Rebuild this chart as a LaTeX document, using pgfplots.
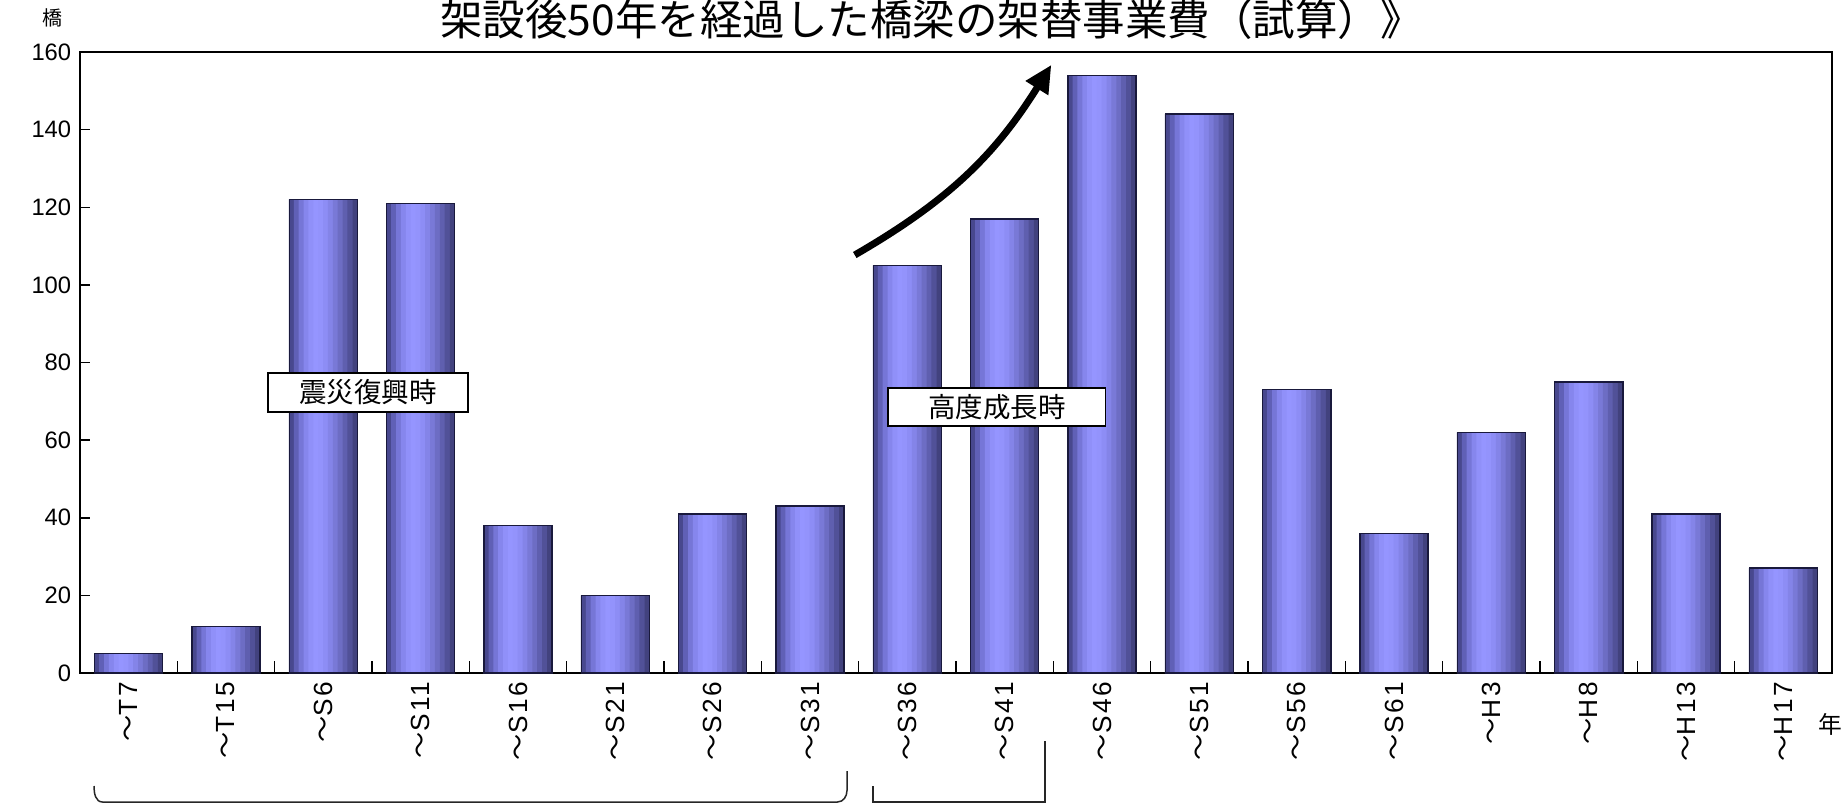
\documentclass[border=0pt]{standalone}
\usepackage{pgfplots}
\pgfplotsset{compat=1.18}
\usepackage{pgfplotstable}
\usepackage{fontspec}
\setmainfont{Liberation Sans}
\newfontfamily\cjk{Noto Sans CJK JP}
\newfontfamily\lab[LetterSpace=10]{Liberation Sans}
\usetikzlibrary{arrows.meta}
\definecolor{barline}{RGB}{25,25,60}
\definecolor{sA}{RGB}{72,72,142}
\definecolor{sB}{RGB}{96,96,182}
\definecolor{sC}{RGB}{118,118,215}
\definecolor{sD}{RGB}{134,134,237}
\definecolor{sE}{RGB}{144,144,249}
\definecolor{sF}{RGB}{149,149,255}
\definecolor{sG}{RGB}{147,147,252}
\definecolor{sH}{RGB}{141,141,245}
\definecolor{sI}{RGB}{132,132,232}
\definecolor{sJ}{RGB}{121,121,215}
\definecolor{sK}{RGB}{109,109,196}
\definecolor{sL}{RGB}{95,95,175}
\definecolor{sM}{RGB}{81,81,152}
\definecolor{sN}{RGB}{66,66,126}
\newcommand{\wl}[1]{{\cjk ～}{\lab #1}}
\pgfplotstableread{
x y
0 5
1 12
2 122
3 121
4 38
5 20
6 41
7 43
8 105
9 117
10 154
11 144
12 73
13 36
14 62
15 75
16 41
17 27
}\bridges
\begin{document}
\begin{tikzpicture}
\useasboundingbox (-32pt,-53.2pt) rectangle (706pt,269.2pt);
\clip (-32pt,-53.2pt) rectangle (706pt,269.2pt);
\begin{axis}[
  at={(0pt,0pt)}, anchor=south west,
  scale only axis, width=700.8pt, height=248.4pt,
  xmin=-0.5, xmax=17.5, ymin=0, ymax=160,
  ytick={0,20,...,160},
  xtick={0,...,17},
  xticklabels={\wl{T7},\wl{T15},\wl{S6},\wl{S11},\wl{S16},\wl{S21},\wl{S26},\wl{S31},\wl{S36},\wl{S41},\wl{S46},\wl{S51},\wl{S56},\wl{S61},\wl{H3},\wl{H8},\wl{H13},\wl{H17}},
  x tick label style={rotate=90, anchor=east, font=\fontsize{10.5}{12}\selectfont},
  y tick label style={font=\fontsize{9.5}{11}\selectfont},
  /pgf/number format/assume math mode=true,
  ybar,
  tick pos=left,
  xtick align=inside,
  ytick align=inside,
  major x tick style={draw=none},
  minor xtick={0.5,1.5,...,16.5},
  minor tick length=5pt,
  major tick length=4pt,
  tick style={black, line width=0.6pt},
  axis line style={black, line width=0.8pt},
  clip=false,
]
\addplot[draw=none, fill=sA, bar width=0.056, bar shift=-0.325] table {\bridges};
\addplot[draw=none, fill=sB, bar width=0.056, bar shift=-0.275] table {\bridges};
\addplot[draw=none, fill=sC, bar width=0.056, bar shift=-0.225] table {\bridges};
\addplot[draw=none, fill=sD, bar width=0.056, bar shift=-0.175] table {\bridges};
\addplot[draw=none, fill=sE, bar width=0.056, bar shift=-0.125] table {\bridges};
\addplot[draw=none, fill=sF, bar width=0.056, bar shift=-0.075] table {\bridges};
\addplot[draw=none, fill=sG, bar width=0.056, bar shift=-0.025] table {\bridges};
\addplot[draw=none, fill=sH, bar width=0.056, bar shift=0.025] table {\bridges};
\addplot[draw=none, fill=sI, bar width=0.056, bar shift=0.075] table {\bridges};
\addplot[draw=none, fill=sJ, bar width=0.056, bar shift=0.125] table {\bridges};
\addplot[draw=none, fill=sK, bar width=0.056, bar shift=0.175] table {\bridges};
\addplot[draw=none, fill=sL, bar width=0.056, bar shift=0.225] table {\bridges};
\addplot[draw=none, fill=sM, bar width=0.056, bar shift=0.275] table {\bridges};
\addplot[draw=none, fill=sN, bar width=0.05, bar shift=0.325] table {\bridges};
\addplot[draw=barline, fill=none, line width=0.6pt, bar width=0.7, bar shift=0] table {\bridges};
\draw[line width=2.8pt, -{Triangle[length=11pt,width=10pt]}] (axis cs:7.46,107.7) to[bend right=14] (axis cs:9.48,156.7);
\node[draw=black, fill=white, line width=0.6pt, minimum width=80pt, minimum height=15.6pt, inner sep=1pt, font=\cjk\fontsize{11}{12}\selectfont] at (axis cs:2.46,72.3) {震災復興時};
\node[draw=black, fill=white, line width=0.6pt, minimum width=87pt, minimum height=15.2pt, inner sep=1pt, font=\cjk\fontsize{11}{12}\selectfont] at (axis cs:8.92,68.5) {高度成長時};
\end{axis}
\node[anchor=base, font=\cjk\fontsize{17}{18}\selectfont] at (340.6pt,255pt) {架設後50年を経過した橋梁の架替事業費（試算）》};
\node[anchor=base, font=\cjk\fontsize{8}{9}\selectfont] at (-10.8pt,259pt) {橋};
\node[font=\cjk\fontsize{9.5}{10}\selectfont] at (700pt,-20.4pt) {年};
\draw[line width=0.6pt, black!85] (5.6pt,-45.2pt) to[out=-90,in=180] (9pt,-51.6pt) -- (303pt,-51.6pt) to[out=0,in=-90] (306.8pt,-47pt) -- (306.8pt,-39.2pt);
\draw[line width=0.6pt, black!85] (317.2pt,-45.2pt) -- (317.2pt,-51.6pt) -- (386pt,-51.6pt) -- (386pt,-27pt);
\end{tikzpicture}
\end{document}
